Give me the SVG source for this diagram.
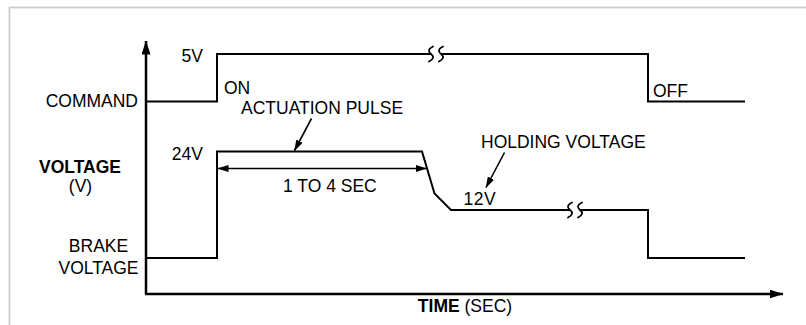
<svg xmlns="http://www.w3.org/2000/svg" width="806" height="325" viewBox="0 0 806 325">
  <style>
    text { font-family: "Liberation Sans", Arial, Helvetica, sans-serif; font-size: 17.5px; fill: #000; }
    .b { font-weight: bold; }
    .sig { fill: none; stroke: #000; stroke-width: 2; stroke-linejoin: miter; }
    .axis { fill: none; stroke: #000; stroke-width: 2.5; }
    .thin { fill: none; stroke: #000; stroke-width: 1.6; }
    .brk { fill: none; stroke: #000; stroke-width: 1.8; stroke-linecap: round; }
  </style>
  <defs>
    <marker id="axisHead" viewBox="0 0 14 9" refX="13.5" refY="4.5" markerWidth="14" markerHeight="9" markerUnits="userSpaceOnUse" orient="auto">
      <path d="M0,0 L14,4.5 L0,9 Z" fill="#000"/>
    </marker>
    <marker id="head" viewBox="0 0 11 7" refX="10.5" refY="3.5" markerWidth="11" markerHeight="7" markerUnits="userSpaceOnUse" orient="auto">
      <path d="M0,0 L11,3.5 L0,7 Z" fill="#000"/>
    </marker>
    <marker id="headStart" viewBox="0 0 11 7" refX="0.5" refY="3.5" markerWidth="11" markerHeight="7" markerUnits="userSpaceOnUse" orient="auto">
      <path d="M11,0 L0,3.5 L11,7 Z" fill="#000"/>
    </marker>
  </defs>

  <!-- frame -->
  <rect x="9.5" y="7.5" width="900" height="400" fill="none" stroke="#cccccc" stroke-width="1.8"/>

  <!-- axes -->
  <g id="axes">
    <line class="axis" x1="146" y1="294" x2="146" y2="41" marker-end="url(#axisHead)"/>
    <line class="axis" x1="145" y1="294" x2="783" y2="294" marker-end="url(#axisHead)"/>
  </g>

  <!-- command signal -->
  <g id="command-signal">
    <polyline class="sig" points="146,101.5 217,101.5 217,54 431,54"/>
    <polyline class="sig" points="441,54 648,54 648,101.5 745,101.5"/>
    <path class="brk" d="M433,46.5 Q426,50 431,54 Q436,58 429,61.5"/>
    <path class="brk" d="M443,46.5 Q436,50 441,54 Q446,58 439,61.5"/>
  </g>

  <!-- brake voltage signal -->
  <g id="brake-signal">
    <polyline class="sig" points="146,258 217,258 217,151.5 422,151.5 434.5,193.5 451,210 570,210"/>
    <polyline class="sig" points="580,210 648,210 648,258 745,258"/>
    <path class="brk" d="M572,202.5 Q565,206 570,210 Q575,214 568,217.5"/>
    <path class="brk" d="M582,202.5 Q575,206 580,210 Q585,214 578,217.5"/>
  </g>

  <!-- leaders and dimension -->
  <g id="connectors">
    <line class="thin" x1="218" y1="168.5" x2="426.5" y2="168.5" marker-start="url(#headStart)" marker-end="url(#head)"/>
    <line class="thin" x1="311.5" y1="118.5" x2="294.5" y2="150.5" marker-end="url(#head)"/>
    <line class="thin" x1="504.5" y1="152.5" x2="486" y2="187.5" marker-end="url(#head)"/>
  </g>

  <!-- labels -->
  <g id="labels">
    <text x="138" y="106.5" text-anchor="end" font-size="18.5">COMMAND</text>
    <text x="203" y="62" text-anchor="end">5V</text>
    <text x="224" y="94">ON</text>
    <text x="241" y="114">ACTUATION PULSE</text>
    <text x="203" y="159.5" text-anchor="end">24V</text>
    <text class="b" x="80" y="172.5" text-anchor="middle" font-size="16.5">VOLTAGE</text>
    <text x="80.5" y="192" text-anchor="middle">(V)</text>
    <text x="98.5" y="251.5" text-anchor="middle">BRAKE</text>
    <text x="98.5" y="274" text-anchor="middle">VOLTAGE</text>
    <text x="283" y="191.5">1 TO 4 SEC</text>
    <text x="463.5" y="205" letter-spacing="0.5">12V</text>
    <text x="481" y="147.5">HOLDING VOLTAGE</text>
    <text x="653" y="96.5">OFF</text>
    <text x="465" y="312" text-anchor="middle"><tspan class="b">TIME</tspan> (SEC)</text>
  </g>
</svg>
